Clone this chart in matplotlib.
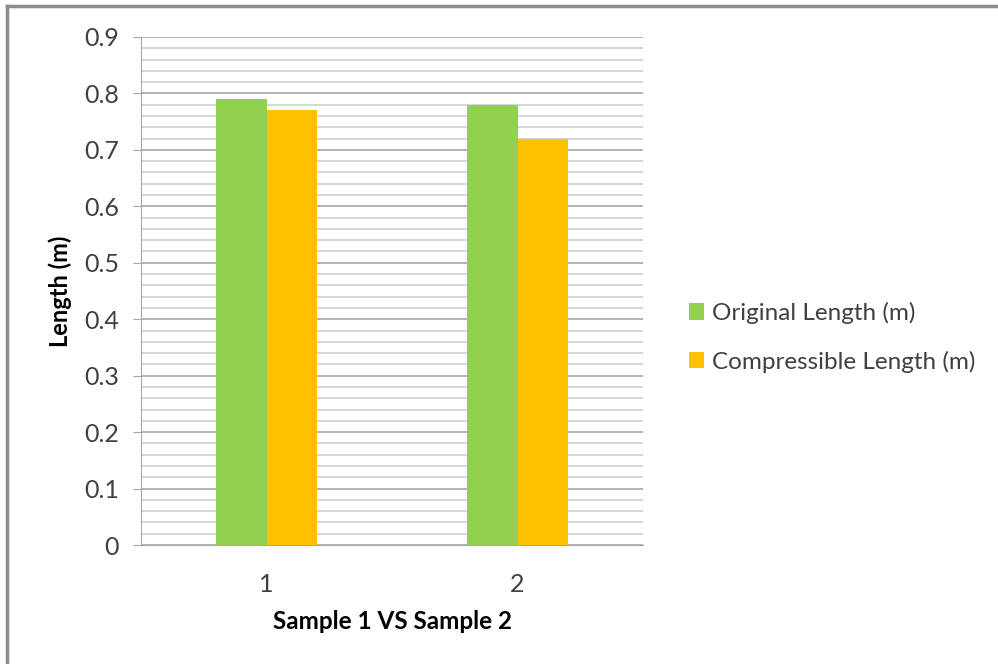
import matplotlib
matplotlib.use('Agg')
import matplotlib.pyplot as plt
import numpy as np
from matplotlib.lines import Line2D

# 長さの比較データ
samples = ['1', '2']
original = [0.79, 0.78]
compressible = [0.77, 0.72]
series_names = ['Original Length (m)', 'Compressible Length (m)']
series_colors = ['#92d050', '#ffc000']

plt.rcParams['font.family'] = ['Lato', 'DejaVu Sans']

fig = plt.figure(figsize=(9.98, 6.64), dpi=100)
ax = fig.add_axes([0.1413, 0.1792, 0.5030, 0.7651])

x = np.arange(len(samples))
w = 0.2
ax.bar(x - w / 2, original, w, color=series_colors[0], label=series_names[0], zorder=3)
ax.bar(x + w / 2, compressible, w, color=series_colors[1], label=series_names[1], zorder=3)

ax.set_xlim(-0.5, 1.5)
ax.set_ylim(0, 0.9)
ax.set_yticks(np.arange(0, 0.91, 0.1))
ax.set_yticklabels(['0'] + [f'{v:.1f}' for v in np.arange(0.1, 0.91, 0.1)])
ax.set_yticks(np.arange(0, 0.9, 0.02), minor=True)
ax.grid(axis='y', which='major', color='#a6a6a6', linewidth=1.2, zorder=0)
ax.grid(axis='y', which='minor', color='#d0d0d0', linewidth=1.2, zorder=0)
ax.set_xticks(x)
ax.set_xticklabels(samples)

for s in ['top', 'right']:
    ax.spines[s].set_visible(False)
ax.spines['left'].set_color('#a6a6a6')
ax.spines['bottom'].set_color('#a6a6a6')
ax.tick_params(axis='y', which='major', length=6, color='#a6a6a6', labelsize=18,
               labelcolor='#404040', pad=10)
ax.tick_params(axis='y', which='minor', length=0)
ax.tick_params(axis='x', length=0, labelsize=18, labelcolor='#404040', pad=20)

ax.set_ylabel('Length (m)', fontsize=17, fontweight='bold')
ax.yaxis.set_label_coords(-0.137, 0.5)
ax.set_xlabel('Sample 1 VS Sample 2', fontsize=17.5, fontweight='bold')
ax.xaxis.set_label_coords(0.5, -0.128)

fig.legend(loc='center left', bbox_to_anchor=(0.69, 0.492), frameon=False,
           fontsize=17.5, handlelength=0.65, handleheight=0.65, handletextpad=0.3,
           labelspacing=1.1, labelcolor='#404040', borderpad=0, borderaxespad=0)

# 外枠（上と左）
fig.add_artist(Line2D([0.007, 0.007], [0, 0.991], color='#8c8c8c', linewidth=2.5))
fig.add_artist(Line2D([0.007, 1.0], [0.991, 0.991], color='#8c8c8c', linewidth=2.5))

fig.savefig('out.png', dpi=100)
